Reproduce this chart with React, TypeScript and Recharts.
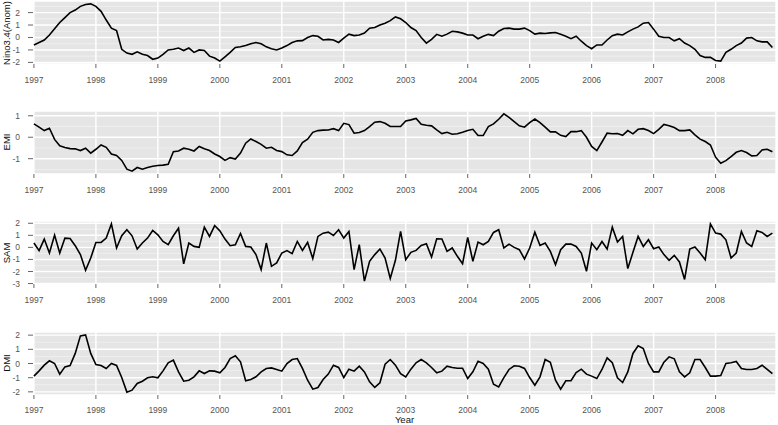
import React from "react";
import { LineChart, Line, XAxis, YAxis, CartesianGrid } from "recharts";

// monthly series Jan 1997 .. Dec 2008, one row per year
const years = [1997, 1998, 1999, 2000, 2001, 2002, 2003, 2004, 2005, 2006, 2007, 2008];

const nino34 = [
  -0.6, -0.4, -0.2, 0.2, 0.7, 1.2, 1.6, 2.0, 2.2, 2.5, 2.65, 2.7,
  2.5, 2.1, 1.4, 0.75, 0.55, -0.95, -1.25, -1.35, -1.15, -1.35, -1.45, -1.75,
  -1.65, -1.35, -1.0, -0.95, -0.85, -1.05, -0.85, -1.2, -1.0, -1.05, -1.5, -1.65,
  -1.9, -1.55, -1.2, -0.8, -0.75, -0.65, -0.5, -0.4, -0.5, -0.75, -0.9, -1.0,
  -0.85, -0.65, -0.4, -0.27, -0.25, 0.0, 0.15, 0.1, -0.2, -0.15, -0.2, -0.4,
  -0.05, 0.27, 0.15, 0.2, 0.35, 0.75, 0.8, 1.0, 1.15, 1.35, 1.65, 1.5,
  1.2, 0.8, 0.55, 0.0, -0.45, -0.15, 0.25, 0.1, 0.27, 0.5, 0.45, 0.35,
  0.2, 0.2, -0.1, 0.1, 0.25, 0.15, 0.5, 0.72, 0.75, 0.67, 0.67, 0.75,
  0.55, 0.27, 0.35, 0.32, 0.37, 0.4, 0.25, 0.1, -0.1, 0.1, -0.3, -0.65,
  -0.9, -0.6, -0.6, -0.2, 0.15, 0.27, 0.2, 0.45, 0.67, 0.85, 1.15, 1.2,
  0.67, 0.1, 0.0, 0.0, -0.27, -0.1, -0.45, -0.65, -0.95, -1.45, -1.6, -1.6,
  -1.85, -1.9, -1.2, -0.95, -0.65, -0.45, -0.05, 0.0, -0.27, -0.35, -0.35, -0.8,
];

const emi = [
  0.62, 0.47, 0.31, 0.42, -0.1, -0.4, -0.48, -0.53, -0.54, -0.62, -0.51, -0.74,
  -0.56, -0.36, -0.47, -0.78, -0.85, -1.08, -1.49, -1.58, -1.41, -1.49, -1.41, -1.35,
  -1.32, -1.3, -1.26, -0.67, -0.64, -0.51, -0.56, -0.64, -0.43, -0.54, -0.62, -0.78,
  -0.9, -1.08, -0.95, -1.02, -0.74, -0.28, -0.08, -0.2, -0.33, -0.51, -0.47, -0.62,
  -0.67, -0.82, -0.85, -0.64, -0.25, -0.09, 0.23, 0.31, 0.33, 0.34, 0.4, 0.31,
  0.65, 0.59, 0.19, 0.22, 0.31, 0.5, 0.7, 0.73, 0.65, 0.5, 0.5, 0.5,
  0.76, 0.81, 0.88, 0.6, 0.56, 0.53, 0.34, 0.17, 0.23, 0.14, 0.16, 0.23,
  0.31, 0.37, 0.08, 0.08, 0.5, 0.62, 0.84, 1.09, 0.93, 0.73, 0.53, 0.47,
  0.68, 0.85, 0.68, 0.47, 0.25, 0.25, 0.09, 0.03, 0.26, 0.26, 0.31, 0.0,
  -0.43, -0.62, -0.22, 0.19, 0.16, 0.17, 0.09, 0.31, 0.16, 0.37, 0.4, 0.31,
  0.17, 0.37, 0.6, 0.54, 0.45, 0.31, 0.31, 0.34, 0.11, -0.09, -0.2, -0.36,
  -0.93, -1.21, -1.09, -0.9, -0.7, -0.62, -0.71, -0.87, -0.85, -0.59, -0.56, -0.68,
];

const sam = [
  0.36, -0.27, 0.69, -0.47, 1.02, -0.47, 0.77, 0.74, 0.14, -0.6, -1.9, -0.88,
  0.41, 0.41, 0.77, 1.95, -0.05, 0.96, 1.46, 0.96, -0.14, 0.36, 0.77, 1.4,
  1.04, 0.49, 0.22, 0.96, 1.59, -1.37, 0.36, 0.08, 0.0, 1.68, 0.91, 1.81,
  1.37, 0.69, 0.14, 0.22, 1.15, 0.08, 0.03, -0.6, -1.84, 0.36, -1.57, -1.29,
  -0.47, -0.27, -0.52, 0.49, -0.25, 0.41, -0.93, 0.91, 1.18, 1.26, 0.99, 1.46,
  0.77, 1.32, -1.84, 0.22, -2.8, -1.15, -0.6, -0.14, -0.88, -2.58, -1.07, 1.32,
  -1.02, -0.41, -0.25, 0.16, 0.3, -0.8, 0.71, 0.69, -0.33, -0.05, -0.74, -1.35,
  0.82, -1.15, 0.44, 0.22, 0.49, 1.24, 1.46, -0.05, 0.27, 0.0, -0.19, -0.96,
  -0.05, 1.26, 0.16, 0.36, -0.33, -1.43, -0.19, 0.27, 0.27, 0.08, -0.47, -1.98,
  0.36, -0.19, 0.49, -0.14, 1.68, 0.44, 0.91, -1.76, -0.41, 0.91, 0.08, 0.63,
  -0.11, 0.03, -0.6, -1.07, -0.66, -1.21, -2.66, -0.14, 0.03, -0.47, -1.02, 1.95,
  1.18, 1.1, 0.63, -0.88, -0.47, 1.32, 0.36, 0.08, 1.37, 1.24, 0.91, 1.18,
];

const dmi = [
  -0.89, -0.52, -0.12, 0.19, 0.0, -0.75, -0.24, -0.14, 0.71, 1.95, 2.02, 0.71,
  -0.07, -0.14, -0.35, 0.0, -0.14, -0.99, -2.02, -1.88, -1.41, -1.25, -1.01, -0.94,
  -1.01, -0.52, 0.05, 0.24, -0.59, -1.25, -1.18, -0.94, -0.52, -0.71, -0.52, -0.54,
  -0.66, -0.28, 0.35, 0.54, 0.12, -1.22, -1.13, -0.94, -0.59, -0.35, -0.31, -0.42,
  -0.54, 0.0, 0.28, 0.35, -0.35, -1.18, -1.81, -1.69, -1.13, -0.75, -0.12, -0.28,
  -0.99, -0.4, -0.54, -0.19, -0.59, -1.29, -1.69, -1.36, -0.05, 0.28, -0.12, -0.71,
  -0.94, -0.4, 0.05, 0.28, 0.05, -0.28, -0.66, -0.54, -0.19, -0.28, -0.33, -0.33,
  -1.06, -0.59, 0.16, 0.0, -0.4, -1.46, -1.65, -0.99, -0.42, -0.16, -0.19, -0.35,
  -0.99, -1.53, -0.94, 0.28, 0.09, -1.18, -1.81, -1.22, -1.22, -0.64, -0.4, -0.75,
  -0.89, -1.06, -0.42, 0.4, 0.05, -1.01, -1.34, -0.59, 0.71, 1.25, 1.06, 0.0,
  -0.59, -0.59, 0.09, 0.47, 0.33, -0.59, -0.94, -0.66, 0.28, 0.28, -0.28, -0.89,
  -0.89, -0.85, 0.0, 0.05, 0.14, -0.35, -0.42, -0.42, -0.35, -0.12, -0.42, -0.71,
];

const rows = years.flatMap((yr, yi) =>
  Array.from({ length: 12 }, (_, m) => {
    const i = yi * 12 + m;
    return { t: yr + m / 12, nino34: nino34[i], emi: emi[i], sam: sam[i], dmi: dmi[i] };
  })
);

const FONT = '"Liberation Sans", Arial, Helvetica, sans-serif';
const PANEL_H = 63;
const AXIS_GREY = "#666";

type PanelProps = {
  dataKey: string;
  title: string;
  top: number;
  values: number[];
  ticks: number[];
  minor: number[];
  labelGap?: number;
};

const Panel = ({ dataKey, title, top, values, ticks, minor, labelGap = 9 }: PanelProps) => {
  // ggplot style 5% expansion around the data range
  const lo = Math.min(...values);
  const hi = Math.max(...values);
  const pad = (hi - lo) * 0.05;
  return (
    <>
      <div style={{ position: "absolute", left: 0, top: top - 2 }}>
        <LineChart
          width={778}
          height={2 + PANEL_H + 26}
          data={rows}
          margin={{ top: 2, right: 2, bottom: 0, left: 0 }}
        >
          <CartesianGrid
            fill="#e5e5e5"
            vertical={false}
            horizontalValues={minor}
            stroke="#f4f4f4"
            strokeWidth={0.7}
          />
          <CartesianGrid stroke="#ffffff" strokeWidth={1.4} />
          <XAxis
            type="number"
            dataKey="t"
            domain={[1996.985, 2008.975]}
            ticks={years}
            interval={0}
            allowDataOverflow
            axisLine={false}
            tickLine={{ stroke: AXIS_GREY }}
            tickSize={4}
            tickMargin={labelGap}
            height={26}
            tick={{ fontSize: 8.5, fill: "#555", fontFamily: FONT }}
          />
          <YAxis
            type="number"
            domain={[lo - pad, hi + pad]}
            ticks={ticks}
            interval={0}
            allowDataOverflow
            axisLine={false}
            tickLine={{ stroke: AXIS_GREY, strokeDasharray: "0 2 5 20" }}
            tickSize={7}
            tickMargin={6}
            width={33}
            tick={{ fontSize: 8.5, fill: "#555", fontFamily: FONT }}
          />
          <Line
            type="linear"
            dataKey={dataKey}
            stroke="#000"
            strokeWidth={1.6}
            dot={false}
            isAnimationActive={false}
          />
        </LineChart>
      </div>
      <div
        style={{
          position: "absolute",
          left: 7,
          top: top + PANEL_H / 2,
          transform: "translate(-50%, -50%) rotate(-90deg)",
          whiteSpace: "nowrap",
          fontSize: 9.5,
          lineHeight: 1,
          color: "#111",
        }}
      >
        {title}
      </div>
    </>
  );
};

export default function App() {
  return (
    <div
      style={{
        position: "absolute",
        left: 0,
        top: 0,
        width: 778,
        height: 425,
        background: "#fff",
        fontFamily: FONT,
        overflow: "hidden",
      }}
    >
      <Panel dataKey="nino34" title="Nino3.4(Anom)" top={1} values={nino34} ticks={[-2, -1, 0, 1, 2]} minor={[-1.5, -0.5, 0.5, 1.5, 2.5]} />
      <Panel dataKey="emi" title="EMI" top={110.5} values={emi} ticks={[-1, 0, 1]} minor={[-1.5, -0.5, 0.5]} />
      <Panel dataKey="sam" title="SAM" top={221} values={sam} ticks={[-3, -2, -1, 0, 1, 2]} minor={[-2.5, -1.5, -0.5, 0.5, 1.5]} />
      <Panel dataKey="dmi" title="DMI" top={331.5} values={dmi} ticks={[-2, -1, 0, 1, 2]} minor={[-1.5, -0.5, 0.5, 1.5]} labelGap={7.5} />
      <div
        style={{
          position: "absolute",
          left: 404.5,
          top: 420,
          transform: "translate(-50%, -50%)",
          fontSize: 9.5,
          lineHeight: 1,
          color: "#111",
        }}
      >
        Year
      </div>
    </div>
  );
}
